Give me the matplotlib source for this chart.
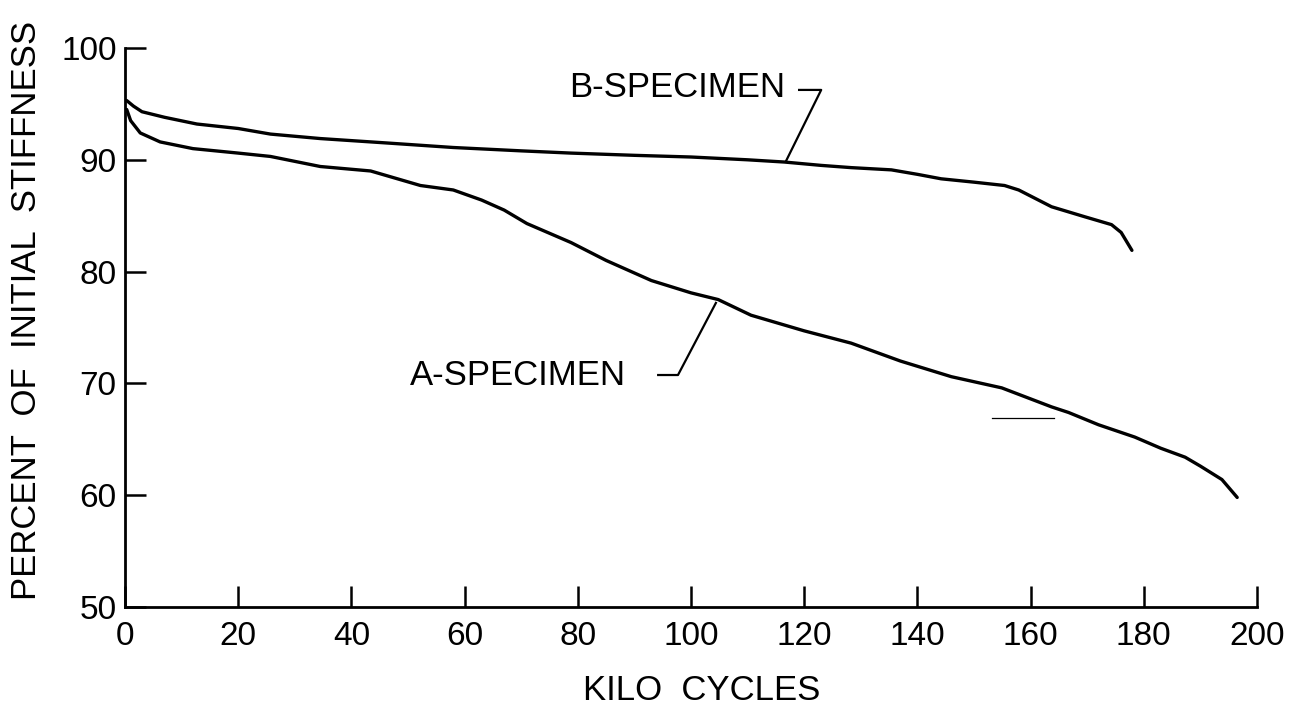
import matplotlib
matplotlib.use("Agg")
import matplotlib.pyplot as plt

plt.rcParams['font.family'] = ['Liberation Sans', 'DejaVu Sans']

# --- data ---
b_kc = [0.3, 1.5, 3, 7, 12.7, 20, 25.7, 34.5, 46.4, 58, 70, 78.8, 90, 100, 110,
        116.5, 123, 128.3, 135.4, 140, 144.2, 150, 155.4, 157.9, 163.7, 169.6,
        174.3, 176, 177.9]
b_pct = [95.3, 94.8, 94.3, 93.8, 93.2, 92.8, 92.3, 91.9, 91.5, 91.1, 90.8, 90.6,
         90.4, 90.25, 90.0, 89.8, 89.5, 89.3, 89.1, 88.7, 88.3, 88.0, 87.7, 87.3,
         85.8, 84.9, 84.2, 83.5, 81.9]

a_kc = [0.3, 1, 2.7, 6.2, 12, 20, 25.7, 34.5, 43.4, 52.2, 58, 63, 67, 71, 78.8,
        85, 93, 100, 104.8, 110.6, 120, 128.3, 137, 146, 154.9, 163.7, 166.7,
        172, 178.4, 183, 187.3, 190, 193.8, 196.5]
a_pct = [94.5, 93.5, 92.4, 91.6, 91.0, 90.6, 90.3, 89.4, 89.0, 87.7, 87.3, 86.4,
         85.5, 84.3, 82.6, 81.0, 79.2, 78.1, 77.5, 76.1, 74.7, 73.6, 72.0, 70.6,
         69.6, 67.9, 67.4, 66.3, 65.2, 64.2, 63.4, 62.6, 61.4, 59.8]

# stray horizontal stroke on the scan
stray_kc = [153.1, 164.1]
stray_pct = [66.9, 66.9]

# label leader lines
b_leader_kc = [119.1, 123.0, 116.8]
b_leader_pct = [96.25, 96.25, 89.9]
a_leader_kc = [94.2, 97.7, 104.4]
a_leader_pct = [70.75, 70.75, 77.2]

b_label = "B-SPECIMEN"
b_label_pos = (78.4, 96.5)
a_label = "A-SPECIMEN"
a_label_pos = (50.4, 70.75)

x_ticks = [0, 20, 40, 60, 80, 100, 120, 140, 160, 180, 200]
y_ticks = [50, 60, 70, 80, 90, 100]
x_label = "KILO  CYCLES"
y_label = "PERCENT  OF  INITIAL  STIFFNESS"

# --- figure ---
fig = plt.figure(figsize=(13.12, 7.13), dpi=100)
ax = fig.add_axes([125 / 1312, (713 - 607) / 713, (1257 - 125) / 1312, (607 - 48) / 713])

lw_curve = 2.4
ax.plot(b_kc, b_pct, color='black', lw=lw_curve, solid_capstyle='round',
        solid_joinstyle='round', clip_on=False)
ax.plot(a_kc, a_pct, color='black', lw=lw_curve, solid_capstyle='round',
        solid_joinstyle='round', clip_on=False)
ax.plot(stray_kc, stray_pct, color='black', lw=0.9)
ax.plot(b_leader_kc, b_leader_pct, color='black', lw=1.6)
ax.plot(a_leader_kc, a_leader_pct, color='black', lw=1.6)

ax.text(*b_label_pos, b_label, fontsize=25, ha='left', va='center')
ax.text(*a_label_pos, a_label, fontsize=25, ha='left', va='center')

ax.set_xlim(0, 200)
ax.set_ylim(50, 100)
ax.set_xticks(x_ticks)
ax.set_yticks(y_ticks)
ax.set_xticklabels([str(v) for v in x_ticks])
ax.set_yticklabels([str(v) for v in y_ticks])

for s in ['top', 'right']:
    ax.spines[s].set_visible(False)
for s in ['left', 'bottom']:
    ax.spines[s].set_linewidth(2.0)

ax.tick_params(axis='both', direction='in', length=15, width=1.8, labelsize=24)
ax.tick_params(axis='x', pad=10)
ax.tick_params(axis='y', pad=6)

fig.text(702 / 1312, 1 - 690 / 713, x_label, fontsize=25, ha='center', va='center')
fig.text(27 / 1312, 1 - 310 / 713, y_label, fontsize=25, ha='center', va='center',
         rotation=90)

fig.savefig("out.png", dpi=100, facecolor='white')
